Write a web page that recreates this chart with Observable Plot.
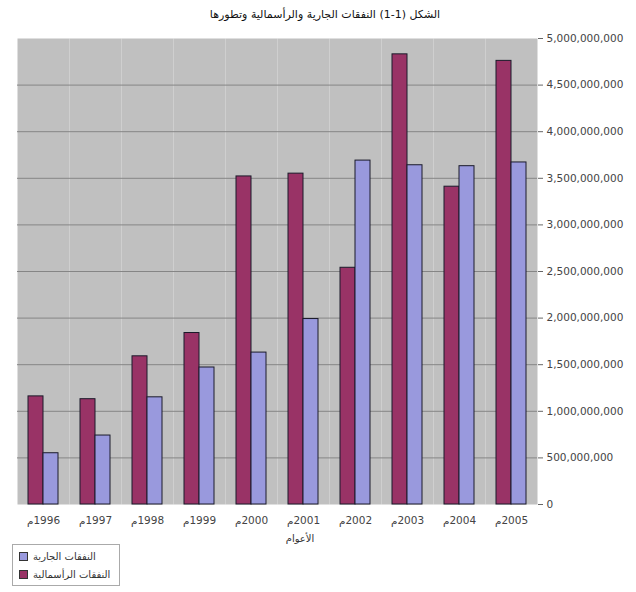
<!DOCTYPE html>
<html>
<head>
<meta charset="utf-8">
<script src="https://cdn.jsdelivr.net/npm/d3@7"></script>
<script src="https://cdn.jsdelivr.net/npm/@observablehq/plot@0.6"></script>
<style>
  body { margin: 0; background: #fff; font-family: "DejaVu Sans", sans-serif; }
  #wrap { position: relative; width: 636px; height: 592px; }
  #title { height: 30px; line-height: 30px; text-align: center; font-size: 11px; color: #111; padding-left: 14px; }
  #xlabel { position: absolute; left: 270px; width: 60px; top: 533px; text-align: center; font-size: 10px; color: #333; }
  #legend { position: absolute; left: 12px; top: 544px; width: 106px; border: 1px solid #aaa; padding: 2px 0; font-size: 10px; color: #333; }
  .row { display: flex; align-items: center; height: 18px; padding-left: 6px; }
  .sw { width: 7px; height: 7px; border: 1px solid #333; margin-right: 5px; }
</style>
</head>
<body>
<div id="wrap">
  <div id="title" dir="rtl">الشكل (1-1) النفقات الجارية والرأسمالية وتطورها</div>
  <div id="chart"></div>
  <div id="xlabel" dir="rtl">الأعوام</div>
  <div id="legend"></div>
</div>
<script>
const years = ["1996", "1997", "1998", "1999", "2000", "2001", "2002", "2003", "2004", "2005"];
const seriesNames = ["النفقات الرأسمالية", "النفقات الجارية"];
const capitalSpending = [1.16e9, 1.13e9, 1.59e9, 1.84e9, 3.52e9, 3.55e9, 2.54e9, 4.83e9, 3.41e9, 4.76e9];
const currentSpending = [0.55e9, 0.74e9, 1.15e9, 1.47e9, 1.63e9, 1.99e9, 3.69e9, 3.64e9, 3.63e9, 3.67e9];
const yTicks = [0, 5e8, 1e9, 1.5e9, 2e9, 2.5e9, 3e9, 3.5e9, 4e9, 4.5e9, 5e9];
const colors = ["#993366", "#9999dd"];

const data = [];
years.forEach((y, i) => {
  data.push({year: y, series: seriesNames[0], value: capitalSpending[i]});
  data.push({year: y, series: seriesNames[1], value: currentSpending[i]});
});

const chart = Plot.plot({
  width: 636,
  height: 504,
  marginTop: 8,
  marginBottom: 30,
  marginLeft: 16,
  marginRight: 99,
  style: {fontFamily: "DejaVu Sans, sans-serif", background: "#fff"},
  fx: {domain: years, paddingInner: 0, paddingOuter: 0},
  x: {domain: seriesNames, paddingInner: 0, paddingOuter: 0.64, axis: null},
  y: {domain: [0, 5e9]},
  color: {domain: seriesNames, range: colors},
  marks: [
    Plot.frame({fill: "#c0c0c0", stroke: null}),
    Plot.gridY(yTicks.slice(1, -1), {stroke: "#858585", strokeOpacity: 1, strokeWidth: 1}),
    Plot.barY(data, {fx: "year", x: "series", y: "value", fill: "series", stroke: "#1a1a2a", strokeWidth: 1}),
    Plot.axisY(yTicks, {anchor: "right", tickFormat: d3.format(","), tickSize: 5, tickPadding: 4, fontSize: 10.5, fill: "#444", stroke: "#666", label: null}),
    Plot.axisFx({anchor: "bottom", tickSize: 0, tickPadding: 12, fontSize: 10.5, fill: "#444", tickFormat: d => "\u200F" + d + "م", label: null})
  ]
});
document.getElementById("chart").appendChild(chart);

const legend = document.getElementById("legend");
[1, 0].forEach(i => {
  const row = document.createElement("div");
  row.className = "row";
  const sw = document.createElement("div");
  sw.className = "sw";
  sw.style.background = colors[i];
  const t = document.createElement("span");
  t.textContent = seriesNames[i];
  row.appendChild(sw);
  row.appendChild(t);
  legend.appendChild(row);
});
</script>
</body>
</html>
